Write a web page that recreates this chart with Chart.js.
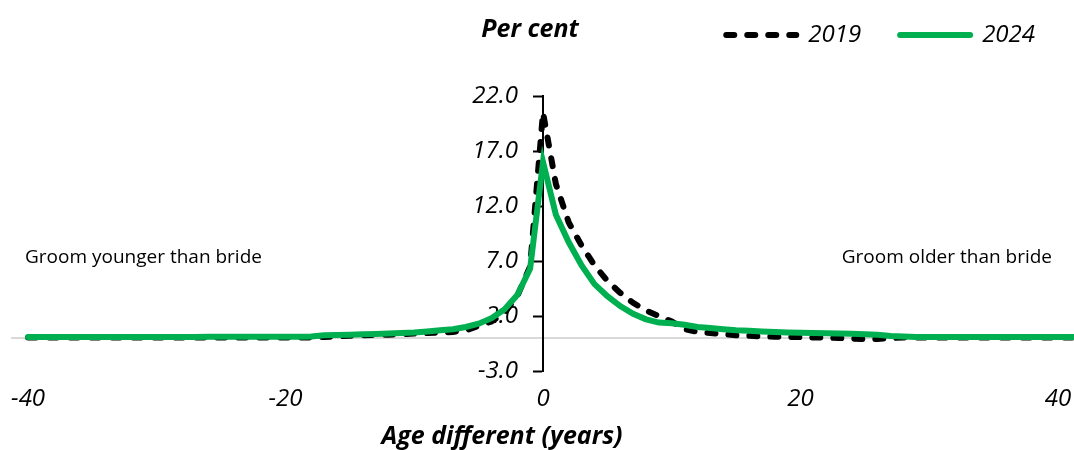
<!DOCTYPE html>
<html>
<head>
<meta charset="utf-8">
<script src="https://cdn.jsdelivr.net/npm/chart.js@4.4.0/dist/chart.umd.min.js"></script>
<style>
  html, body { margin: 0; padding: 0; background: #fff; }
  #wrap { width: 1074px; height: 450px; position: relative; }
</style>
</head>
<body>
<div id="wrap"><canvas id="chart"></canvas></div>
<script>
// age difference (groom minus bride), years
const ages = [
  -40, -39, -38, -37, -36, -35, -34, -33, -32, -31, -30, -29, -28, -27, -26, -25, -24, -23, -22, -21,
  -20, -19, -18, -17, -16, -15, -14, -13, -12, -11, -10, -9, -8, -7, -6, -5, -4, -3, -2, -1,
  0, 1, 2, 3, 4, 5, 6, 7, 8, 9, 10, 11, 12, 13, 14, 15, 16, 17, 18, 19,
  20, 21, 22, 23, 24, 25, 26, 27, 28, 29, 30, 31, 32, 33, 34, 35, 36, 37, 38, 39,
  40, 41, 42
];

// per cent of marriages
const share2019 = [
  0.05, 0.05, 0.05, 0.05, 0.05, 0.05, 0.05, 0.05, 0.05, 0.05, 0.05, 0.05, 0.05, 0.05, 0.05, 0.05, 0.05, 0.05, 0.05, 0.05,
  0.05, 0.05, 0.05, 0.1, 0.15, 0.2, 0.25, 0.28, 0.3, 0.35, 0.4, 0.45, 0.5, 0.55, 0.7, 1.1, 1.5, 2.3, 3.8, 6.5,
  20.5, 14.0, 10.5, 8.4, 6.6, 5.2, 4.1, 3.2, 2.5, 2.0, 1.5, 0.8, 0.55, 0.45, 0.35, 0.25, 0.2, 0.15, 0.12, 0.1,
  0.08, 0.05, 0.03, 0.0, -0.05, -0.1, -0.1, 0.0, 0.05, 0.05, 0.05, 0.05, 0.05, 0.05, 0.05, 0.05, 0.05, 0.05, 0.05, 0.05,
  0.05, 0.05, 0.05
];
const share2024 = [
  0.1, 0.1, 0.1, 0.1, 0.1, 0.1, 0.1, 0.1, 0.1, 0.1, 0.1, 0.1, 0.1, 0.1, 0.12, 0.12, 0.12, 0.12, 0.12, 0.12,
  0.12, 0.12, 0.13, 0.25, 0.28, 0.3, 0.33, 0.36, 0.4, 0.45, 0.5, 0.6, 0.7, 0.8, 1.0, 1.3, 1.8, 2.6, 3.9, 6.3,
  16.0, 11.2, 8.7, 6.6, 4.9, 3.8, 2.9, 2.2, 1.7, 1.4, 1.35, 1.2, 1.0, 0.9, 0.8, 0.7, 0.65, 0.6, 0.55, 0.5,
  0.47, 0.45, 0.43, 0.4, 0.38, 0.35, 0.3, 0.18, 0.13, 0.1, 0.1, 0.1, 0.1, 0.1, 0.1, 0.1, 0.1, 0.1, 0.1, 0.1,
  0.1, 0.1, 0.1
];

const xTicks = [-40, -20, 0, 20, 40];
const yTicks = [-3, 2, 7, 12, 17, 22];
const notes = ['Groom younger than bride', 'Groom older than bride'];

const FONT = "'Open Sans', sans-serif";
const tickFont = { family: FONT, size: 24, style: 'italic' };

// free text: unit label, axis title and the two side notes
const textPlugin = {
  id: 'extraText',
  afterDraw(chart) {
    const c = chart.ctx;
    c.save();
    c.fillStyle = '#000';
    c.textBaseline = 'middle';
    c.font = '19px ' + FONT;
    c.textAlign = 'left';
    c.fillText(notes[0], 25, 258);
    c.textAlign = 'right';
    c.fillText(notes[1], 1052, 258);
    c.font = 'italic bold 25px ' + FONT;
    c.textAlign = 'center';
    c.fillText('Per cent', 530, 30);
    c.fillText('Age different (years)', 502, 437);
    c.restore();
  }
};

new Chart(document.getElementById('chart'), {
  type: 'line',
  data: {
    datasets: [
      {
        label: '2019',
        data: ages.map((a, i) => ({ x: a, y: share2019[i] })),
        borderColor: '#000',
        backgroundColor: '#000',
        borderWidth: 6,
        borderDash: [8, 13],
        borderCapStyle: 'round',
        pointRadius: 0,
        order: 1
      },
      {
        label: '2024',
        data: ages.map((a, i) => ({ x: a, y: share2024[i] })),
        borderColor: '#00b050',
        backgroundColor: '#00b050',
        borderWidth: 6,
        borderCapStyle: 'round',
        pointRadius: 0,
        order: 0
      }
    ]
  },
  options: {
    responsive: true,
    maintainAspectRatio: false,
    animation: false,
    devicePixelRatio: 1,
    layout: { padding: { left: 12, right: 0, top: -16, bottom: 79 } },
    scales: {
      x: {
        type: 'linear',
        position: { y: 0 },
        min: -41.25,
        max: 41.25,
        afterBuildTicks: s => { s.ticks = xTicks.map(v => ({ value: v })); },
        afterFit: s => { s.paddingLeft = 0; s.paddingRight = 0; },
        border: { display: true, color: '#d9d9d9', width: 2 },
        grid: { display: false, drawTicks: false },
        ticks: { padding: 47, color: '#000', font: tickFont }
      },
      // empty band between the legend and the plot
      gap: {
        type: 'linear',
        axis: 'x',
        position: 'top',
        afterFit: s => { s.height = 39; },
        border: { display: false },
        grid: { display: false, drawTicks: false },
        ticks: { display: false }
      },
      y: {
        type: 'linear',
        position: 'center',
        min: -3,
        max: 22,
        afterBuildTicks: s => { s.ticks = yTicks.map(v => ({ value: v })); },
        afterFit: s => { s.paddingTop = 94; },
        border: { display: true, color: '#000', width: 2 },
        grid: { display: true, drawOnChartArea: false, drawTicks: true, tickLength: 9, tickColor: '#000', tickWidth: 2 },
        ticks: {
          padding: 16,
          color: '#000',
          font: tickFont,
          callback: v => v.toFixed(1)
        }
      }
    },
    plugins: {
      legend: {
        position: 'top',
        align: 'end',
        labels: {
          usePointStyle: true,
          pointStyle: 'line',
          pointStyleWidth: 70,
          padding: 39,
          color: '#000',
          font: tickFont,
          sort: (a, b) => a.datasetIndex - b.datasetIndex,
          generateLabels: chart => {
            const items = Chart.defaults.plugins.legend.labels.generateLabels(chart);
            items.forEach(it => {
              const ds = chart.data.datasets[it.datasetIndex];
              it.lineDash = ds.borderDash || [];
              it.lineWidth = 6;
              it.lineCap = 'round';
              it.strokeStyle = ds.borderColor;
              it.pointStyle = 'line';
            });
            return items;
          }
        }
      },
      tooltip: { enabled: false }
    }
  },
  plugins: [textPlugin]
});
</script>
</body>
</html>
